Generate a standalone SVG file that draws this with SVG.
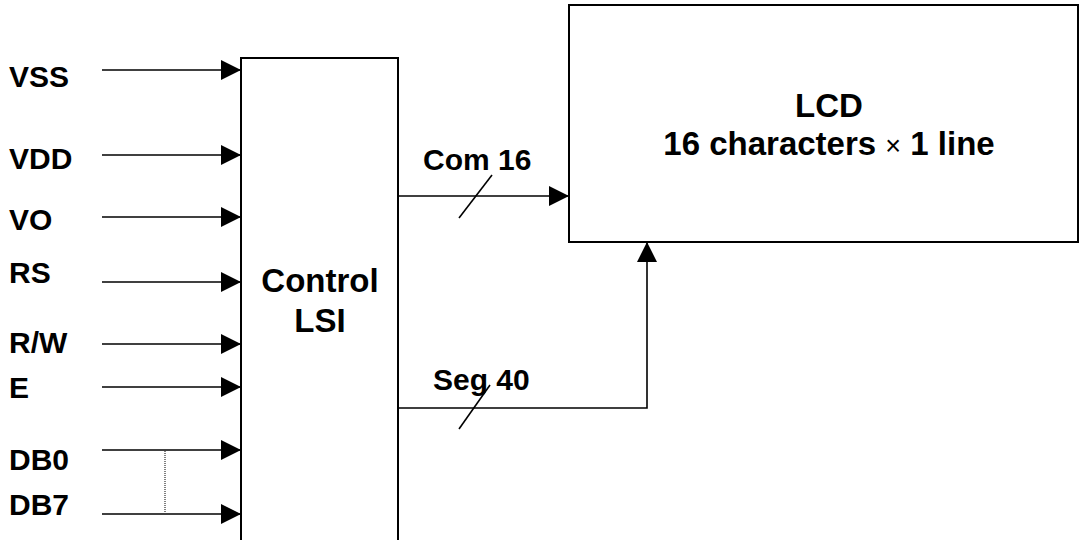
<svg xmlns="http://www.w3.org/2000/svg" width="1080" height="540" viewBox="0 0 1080 540">
<style>
.box{fill:#fff;stroke:#000;stroke-width:2}
.ln{fill:none;stroke:#000;stroke-width:1.6}
.lbl{font-family:"Liberation Sans",Arial,sans-serif;font-weight:bold;font-size:30px;fill:#000}
.big{font-family:"Liberation Sans",Arial,sans-serif;font-weight:bold;font-size:33px;fill:#000}
</style>
<defs>
<marker id="ah" markerUnits="userSpaceOnUse" markerWidth="20" markerHeight="20" refX="20" refY="10" orient="auto">
<path d="M0,0 L20,10 L0,20 z" fill="#000"/>
</marker>
</defs>
<rect width="1080" height="540" fill="#fff"/>
<g id="control-lsi">
<rect class="box" x="241" y="58" width="157" height="500"/>
<text class="big" x="320" y="292" text-anchor="middle">Control</text>
<text class="big" x="320" y="332" text-anchor="middle">LSI</text>
</g>
<g id="lcd">
<rect class="box" x="569" y="5" width="509" height="237"/>
<text class="big" x="829" y="117" text-anchor="middle">LCD</text>
<text class="big" x="829" y="155" text-anchor="middle">16 characters <tspan font-weight="normal" font-size="27">×</tspan> 1 line</text>
</g>
<g id="labels">
<text class="lbl" x="9" y="87">VSS</text>
<text class="lbl" x="9" y="169">VDD</text>
<text class="lbl" x="9" y="230">VO</text>
<text class="lbl" x="9" y="283">RS</text>
<text class="lbl" x="9" y="353">R/W</text>
<text class="lbl" x="9" y="398">E</text>
<text class="lbl" x="9" y="470">DB0</text>
<text class="lbl" x="9" y="515">DB7</text>
<text class="lbl" x="423" y="170">Com 16</text>
<text class="lbl" x="433" y="390">Seg 40</text>
</g>
<g id="connectors">
<line class="ln" x1="102" y1="70" x2="241" y2="70" marker-end="url(#ah)"/>
<line class="ln" x1="102" y1="155" x2="241" y2="155" marker-end="url(#ah)"/>
<line class="ln" x1="102" y1="217" x2="241" y2="217" marker-end="url(#ah)"/>
<line class="ln" x1="102" y1="282" x2="241" y2="282" marker-end="url(#ah)"/>
<line class="ln" x1="102" y1="344" x2="241" y2="344" marker-end="url(#ah)"/>
<line class="ln" x1="102" y1="387" x2="241" y2="387" marker-end="url(#ah)"/>
<line class="ln" x1="102" y1="450" x2="241" y2="450" marker-end="url(#ah)"/>
<line class="ln" x1="102" y1="514" x2="241" y2="514" marker-end="url(#ah)"/>
<line x1="165" y1="451" x2="165" y2="513" stroke="#000" stroke-width="1" stroke-dasharray="1,1"/>
<line class="ln" x1="398" y1="196" x2="569" y2="196" marker-end="url(#ah)"/>
<line class="ln" x1="459" y1="218" x2="492" y2="175"/>
<polyline class="ln" points="398,408 647,408 647,242" marker-end="url(#ah)"/>
<line class="ln" x1="459" y1="429" x2="490" y2="385"/>
</g>
</svg>
